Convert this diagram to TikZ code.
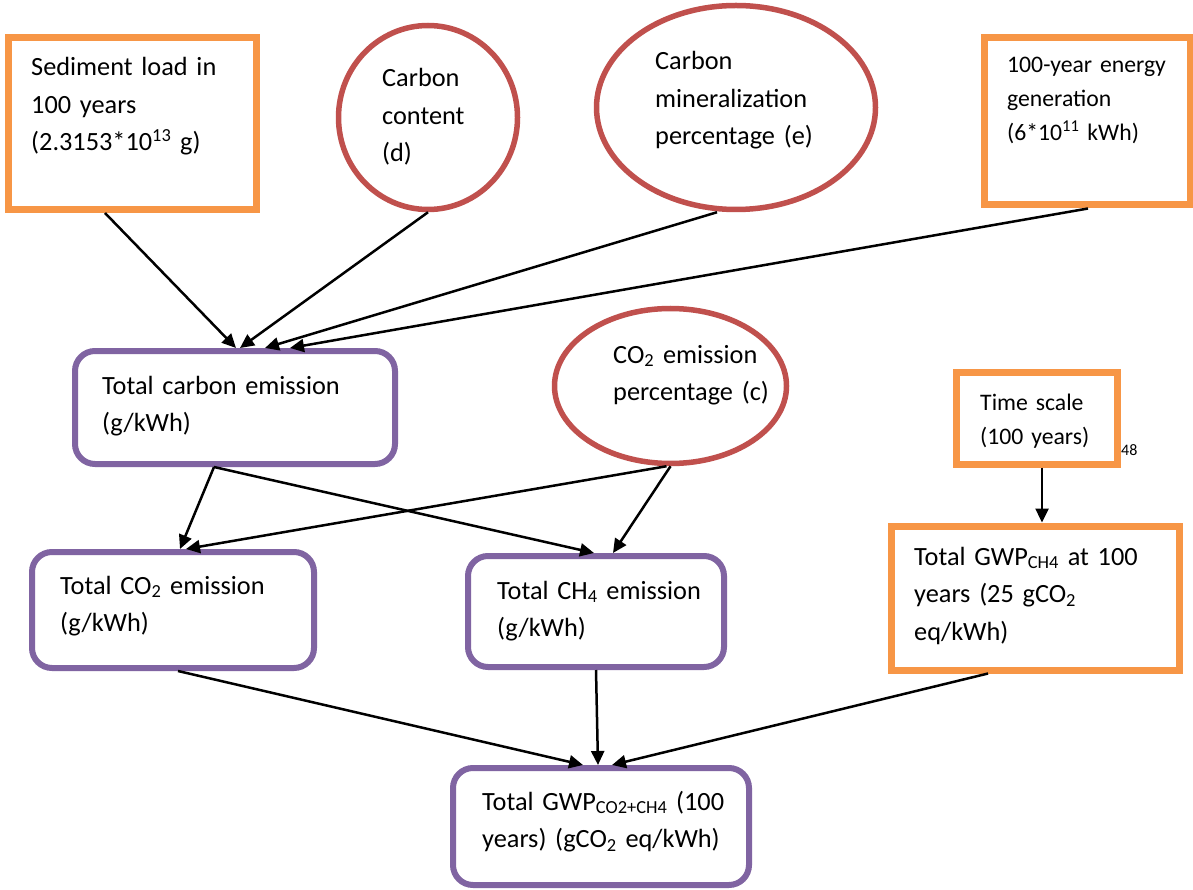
\documentclass[tikz,border=0pt]{standalone}
\usepackage{fontspec}
\setmainfont{Carlito}
\usetikzlibrary{shapes.geometric,arrows.meta}
\definecolor{obox}{HTML}{F79646}
\definecolor{rell}{HTML}{C0504D}
\definecolor{pbox}{HTML}{8064A2}
\tikzset{
  orangebox/.style={draw=obox,line width=7pt,rectangle,inner sep=0pt},
  redell/.style={draw=rell,line width=5.5pt,ellipse,inner sep=0pt},
  purplebox/.style={draw=pbox,line width=6pt,rectangle,rounded corners=20pt,inner sep=0pt},
  txt/.style={anchor=base west,inner sep=0pt,text width=320pt,align=left,font=\fontsize{26.3}{37.5}\selectfont},
  smalltxt/.style={txt,font=\fontsize{23.7}{34}\selectfont},
  arr/.style={line width=2.5pt,-{Triangle[length=14pt,width=13pt]}}
}
\begin{document}
\begin{tikzpicture}[x=1pt,y=-1pt]
\path[use as bounding box,fill=white] (0,0) rectangle (1193,890);
% shapes
\node[orangebox,minimum width=248pt,minimum height=172pt] (sed) at (132.5,123.5) {};
\node[redell,minimum width=179pt,minimum height=184pt] (cc) at (428,117.5) {};
\node[redell,minimum width=279pt,minimum height=204pt] (min) at (736,107.5) {};
\node[orangebox,minimum width=206pt,minimum height=167pt] (energy) at (1087,121.5) {};
\node[purplebox,minimum width=320pt,minimum height=113pt] (tce) at (235,407.5) {};
\node[redell,minimum width=232pt,minimum height=155pt] (co2pct) at (670.5,386) {};
\node[orangebox,minimum width=161pt,minimum height=92pt] (time) at (1036.5,418) {};
\node[orangebox,minimum width=288pt,minimum height=144pt] (gwpch4) at (1035,598) {};
\node[purplebox,minimum width=282pt,minimum height=116pt] (co2e) at (173,610) {};
\node[purplebox,minimum width=256pt,minimum height=111pt] (ch4e) at (596,611.5) {};
\node[purplebox,minimum width=296pt,minimum height=117pt] (gwp) at (601,826.5) {};
% connectors
\draw[arr] ([xshift=-27.5pt]sed.south) -- ([xshift=1pt]tce.north);
\draw[arr] (cc.south) -- ([xshift=5pt]tce.north);
\draw[arr] ([xshift=-19pt]min.south) -- ([xshift=30pt]tce.north);
\draw[arr] ([xshift=1pt]energy.south) -- ([xshift=55pt]tce.north);
\draw[arr] ([xshift=-21pt]tce.south) -- ([xshift=7pt]co2e.north);
\draw[arr] ([xshift=-21pt]tce.south) -- ([xshift=-2pt]ch4e.north);
\draw[arr] ([xshift=-4pt]co2pct.south) -- ([xshift=13pt]co2e.north);
\draw[arr] (co2pct.south) -- ([xshift=17pt]ch4e.north);
\draw[arr] ([xshift=5.5pt]time.south) -- ([xshift=7pt]gwpch4.north);
\draw[arr] ([xshift=5pt]co2e.south) -- ([xshift=-18pt]gwp.north);
\draw[arr] (ch4e.south) -- ([xshift=-3pt]gwp.north);
\draw[arr] ([xshift=-47pt]gwpch4.south) -- ([xshift=11pt]gwp.north);
% texts
\node[txt] (sedt) at (31,76) {Sediment load in\\100 years\\(2.3153*10\textsuperscript{13} g)};
\node[txt] (cct) at (382,87) {Carbon\\content\\(d)};
\node[txt] (mint) at (655,70) {Carbon\\mineralization\\percentage (e)};
\node[smalltxt] (energyt) at (1007,73) {100-year energy\\generation\\(6*10\textsuperscript{11} kWh)};
\node[txt] (tcet) at (102,394) {Total carbon emission\\(g/kWh)};
\node[txt] (co2pctt) at (613,363) {CO\textsubscript{2} emission\\percentage (c)};
\node[smalltxt] (timet) at (980,410) {Time scale\\(100 years)};
\node[anchor=base west,inner sep=0pt,font=\fontsize{16}{19}\selectfont] (num) at (1121,455) {48};
\node[txt] (gwpch4t) at (914,565) {Total GWP\textsubscript{CH4} at 100\\years (25 gCO\textsubscript{2}\\eq/kWh)};
\node[txt] (co2et) at (60,594) {Total CO\textsubscript{2} emission\\(g/kWh)};
\node[txt] (ch4et) at (497,599) {Total CH\textsubscript{4} emission\\(g/kWh)};
\node[txt] (gwpt) at (482,810) {Total GWP\textsubscript{CO2+CH4} (100\\years) (gCO\textsubscript{2} eq/kWh)};
\end{tikzpicture}
\end{document}
